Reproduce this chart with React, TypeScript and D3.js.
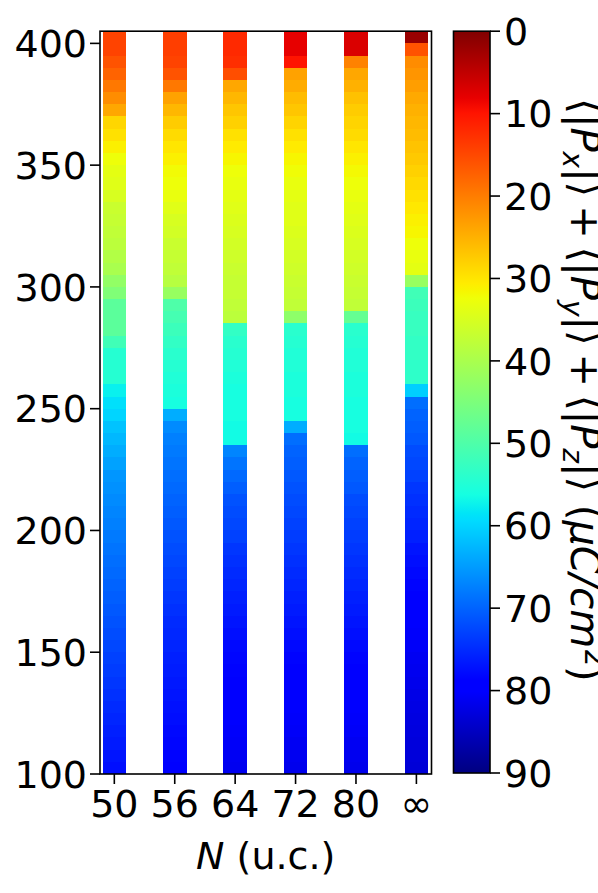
import React, { useEffect, useRef } from 'react';
import * as d3 from 'd3';

// system sizes (columns) and temperature grid (lower edge of each 5 K cell), top to bottom
const sizes = ['50', '56', '64', '72', '80', '∞'];
const temps = [400, 395, 390, 385, 380, 375, 370, 365, 360, 355, 350, 345, 340, 335, 330, 325, 320, 315, 310, 305,
    300, 295, 290, 285, 280, 275, 270, 265, 260, 255, 250, 245, 240, 235, 230, 225, 220, 215, 210, 205,
    200, 195, 190, 185, 180, 175, 170, 165, 160, 155, 150, 145, 140, 135, 130, 125, 120, 115, 110, 105, 100];

// polarization |Px|+|Py|+|Pz| (uC/cm^2) per cell, same order as temps
const p50 = [14.5, 14.5, 16, 17.5, 19.5, 21.5, 24, 28.5, 29.5, 31, 32.5, 33.5, 34, 35, 36.5, 37, 37.5, 38, 39, 40,
    42.5, 44.5, 48.5, 48.5, 48.5, 51.5, 54.5, 54.5, 54.5, 57.5, 59, 60, 61.5, 62.5, 63.5, 64.5, 65.5, 66, 66.5, 67,
    67.5, 68, 68.5, 69, 69.5, 70, 70.5, 71, 71.5, 72, 72.5, 73, 73.5, 74, 74.5, 75, 75.5, 76, 76.5, 77, 77.5];
const p56 = [14, 14, 14.5, 16, 19.5, 23.5, 25.5, 27.5, 29, 30, 31, 32, 32.5, 33, 34, 35, 35.5, 36.5, 37, 37.5,
    38.5, 42, 50, 51, 52, 53, 54, 54.5, 55, 55.5, 56, 63.5, 66.5, 67.5, 68, 68.5, 69, 69.5, 70, 70.5,
    71, 71.5, 72, 72.5, 73, 73.5, 74, 74.5, 75, 75.3, 75.6, 76, 76.3, 76.6, 77, 77.3, 77.6, 78, 78.3, 78.6, 79];
const p64 = [12, 12, 12.5, 15.5, 24, 25.5, 27, 28, 29.5, 30.5, 31.5, 32.5, 33, 33.5, 34, 34.5, 35, 35.5, 36, 36.5,
    37, 37, 37.5, 38, 53, 54, 54.5, 55, 55.5, 56, 56, 56, 56.5, 56.5, 67, 68.5, 69.5, 70.5, 71.5, 72,
    72.5, 73, 74, 74.5, 75, 75.5, 76, 76.5, 77, 77.5, 78, 78.3, 78.6, 79, 79.3, 79.6, 80, 80.3, 80.6, 81, 81.3];
const p72 = [8, 8, 10, 23.5, 24.5, 26, 27, 28.3, 29.5, 30.5, 31.5, 32.2, 33, 33.5, 34, 34, 34.5, 35, 35.5, 36,
    36.5, 37, 37.5, 43, 54, 54.5, 55, 55, 55.5, 55.5, 56, 56, 63.5, 69, 70, 70.5, 71, 71.5, 72, 72.5,
    73, 73.5, 74, 74.5, 75, 75.5, 76, 76.5, 77, 77.5, 78, 78.5, 79, 79.3, 79.6, 80, 80.3, 80.6, 81, 81.2, 81.5];
const p80 = [7, 7, 20.5, 24, 25, 26.5, 27.5, 28.3, 29, 30, 31, 31.8, 32.5, 33, 33.5, 34, 34.5, 35, 35.5, 36,
    36.5, 37, 37.5, 47.5, 54, 54.5, 55, 55, 55.5, 55.5, 56, 56, 56, 56.5, 69, 70, 70.5, 71, 72, 72.5,
    73, 73.5, 74, 74.5, 75, 75.5, 76, 76.5, 77, 77.5, 78, 78.5, 79, 79.3, 79.6, 80, 80.3, 80.6, 81, 81.3, 81.6];
const pInf = [2, 16, 21.4, 22.3, 23.2, 24.2, 25, 25.5, 26, 26.7, 27.3, 28, 28.8, 29.5, 30.2, 31, 31.5, 32.5, 33, 33.5,
    42, 51.5, 52, 52.5, 52.5, 53, 53, 53.5, 53.5, 60.5, 69, 70, 70.5, 71, 72, 72.5, 73, 74, 74.5, 75,
    75.5, 76, 77, 77.5, 78, 78.5, 79, 79.5, 80, 80.3, 80.6, 81, 81.3, 81.6, 82, 82.2, 82.4, 82.6, 82.8, 83, 83.2];
const columns = [p50, p56, p64, p72, p80, pInf];

const yTicks = [100, 150, 200, 250, 300, 350, 400];
const cbarTicks = [0, 10, 20, 30, 40, 50, 60, 70, 80, 90];

// matplotlib 'jet' segment data
const jetR = d3.scaleLinear().domain([0, 0.35, 0.66, 0.89, 1]).range([0, 0, 1, 1, 0.5]).clamp(true);
const jetG = d3.scaleLinear().domain([0, 0.125, 0.375, 0.64, 0.91, 1]).range([0, 0, 1, 1, 0, 0]).clamp(true);
const jetB = d3.scaleLinear().domain([0, 0.11, 0.34, 0.65, 1]).range([0.5, 1, 1, 0, 0]).clamp(true);
const jet = (t: number) => d3.rgb(jetR(t) * 255, jetG(t) * 255, jetB(t) * 255).formatHex();
const jetStops = [0, 0.11, 0.125, 0.34, 0.35, 0.375, 0.64, 0.65, 0.66, 0.89, 0.91, 1];

const FONT = '"DejaVu Sans", sans-serif';
const FS = '38px';

const App = () => {
    const svgRef = useRef<SVGSVGElement>(null);

    useEffect(() => {
        const svg = d3.select(svgRef.current);
        svg.selectAll('*').remove();

        const plot = { left: 100, right: 431.5, top: 31.2, bottom: 774 };
        const cb = { left: 453.5, right: 490, top: 31.2, bottom: 773 };

        const x = d3.scaleLinear().domain([-0.237, 5.25]).range([plot.left, plot.right]);
        const y = d3.scaleLinear().domain([100, 405]).range([plot.bottom, plot.top]);
        const color = d3.scaleLinear().domain([0, 90]).range([1, 0]); // jet_r
        const barW = x(0.39) - x(0);

        // cells
        const cells = columns.flatMap((vals, i) =>
            vals.map((v, j) => ({ col: i, t: temps[j], v })));
        svg.append('g')
            .selectAll('rect')
            .data(cells)
            .enter()
            .append('rect')
            .attr('x', d => x(d.col) - barW / 2)
            .attr('y', d => y(d.t + 5))
            .attr('width', barW)
            .attr('height', d => y(d.t) - y(d.t + 5) + 0.4)
            .attr('fill', d => jet(color(d.v)))
            .attr('shape-rendering', 'crispEdges');

        // frame
        svg.append('rect')
            .attr('x', plot.left).attr('y', plot.top)
            .attr('width', plot.right - plot.left).attr('height', plot.bottom - plot.top)
            .attr('fill', 'none').attr('stroke', '#000').attr('stroke-width', 1.6);

        // y axis
        const yAxis = svg.append('g');
        yAxis.selectAll('line')
            .data(yTicks).enter().append('line')
            .attr('x1', plot.left).attr('x2', plot.left - 10)
            .attr('y1', d => y(d)).attr('y2', d => y(d))
            .attr('stroke', '#000').attr('stroke-width', 1.6);
        yAxis.selectAll('text')
            .data(yTicks).enter().append('text')
            .attr('x', 87).attr('y', d => y(d)).attr('dy', '0.36em')
            .attr('text-anchor', 'end')
            .style('font-family', FONT).style('font-size', FS)
            .text(d => d);

        // x axis
        const xAxis = svg.append('g');
        xAxis.selectAll('line')
            .data(sizes).enter().append('line')
            .attr('x1', (d, i) => x(i)).attr('x2', (d, i) => x(i))
            .attr('y1', plot.bottom).attr('y2', plot.bottom + 10)
            .attr('stroke', '#000').attr('stroke-width', 1.6);
        xAxis.selectAll('text')
            .data(sizes).enter().append('text')
            .attr('x', (d, i) => x(i)).attr('y', 817)
            .attr('text-anchor', 'middle')
            .style('font-family', FONT).style('font-size', FS)
            .text(d => d);

        const xl = svg.append('text')
            .attr('x', (plot.left + plot.right) / 2).attr('y', 869)
            .attr('text-anchor', 'middle')
            .style('font-family', FONT).style('font-size', FS);
        xl.append('tspan').style('font-style', 'oblique').text('N');
        xl.append('tspan').text(' (u.c.)');

        // colorbar
        const grad = svg.append('defs').append('linearGradient')
            .attr('id', 'jetbar').attr('x1', 0).attr('y1', 0).attr('x2', 0).attr('y2', 1);
        [...jetStops].reverse().forEach(t => {
            grad.append('stop').attr('offset', 1 - t).attr('stop-color', jet(t));
        });
        const cy = d3.scaleLinear().domain([0, 90]).range([cb.top, cb.bottom]);
        svg.append('rect')
            .attr('x', cb.left).attr('y', cb.top)
            .attr('width', cb.right - cb.left).attr('height', cb.bottom - cb.top)
            .attr('fill', 'url(#jetbar)').attr('stroke', '#000').attr('stroke-width', 1.6);
        const cAxis = svg.append('g');
        cAxis.selectAll('line')
            .data(cbarTicks).enter().append('line')
            .attr('x1', cb.right).attr('x2', cb.right + 10)
            .attr('y1', d => cy(d)).attr('y2', d => cy(d))
            .attr('stroke', '#000').attr('stroke-width', 1.6);
        cAxis.selectAll('text')
            .data(cbarTicks).enter().append('text')
            .attr('x', cb.right + 14).attr('y', d => cy(d)).attr('dy', '0.36em')
            .style('font-family', FONT).style('font-size', FS)
            .text(d => d);

        // colorbar label, rotated to read top to bottom
        const cl = svg.append('text')
            .attr('transform', `translate(571,390) rotate(90)`)
            .attr('text-anchor', 'middle')
            .style('font-family', FONT).style('font-size', '40px');
        ['x', 'y', 'z'].forEach((c, k) => {
            cl.append('tspan').text(k === 0 ? '⟨|' : '\u2009+\u2009⟨|');
            cl.append('tspan').style('font-style', 'oblique').text('P');
            cl.append('tspan').attr('dy', 8).style('font-size', '28px').style('font-style', 'oblique').text(c);
            cl.append('tspan').attr('dy', -8).text('|⟩');
        });
        cl.append('tspan').text(' (');
        cl.append('tspan').style('font-style', 'oblique').text('μC/cm');
        cl.append('tspan').attr('dy', -14).style('font-size', '28px').text('2');
        cl.append('tspan').attr('dy', 14).text(')');
    }, []);

    return (
        <svg ref={svgRef} width={598} height={893} style={{ position: 'absolute', left: 0, top: 0, background: '#fff' }} />
    );
};

export default App;
